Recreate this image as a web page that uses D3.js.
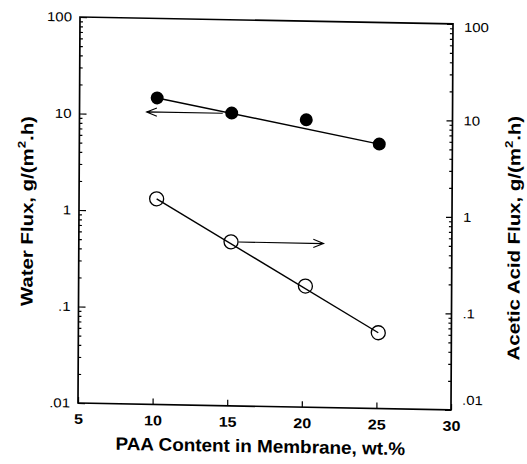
<!DOCTYPE html>
<html><head><meta charset="utf-8">
<script src="https://cdn.jsdelivr.net/npm/d3@7"></script>
<style>
body{margin:0;background:#fff}
text{font-family:"Liberation Sans",Arial,Helvetica,sans-serif;fill:#000}
</style>
</head><body>
<svg id="c" width="527" height="464"></svg>
<script>
// ---- data ----
const xTicks = [5, 10, 15, 20, 25, 30];
const xTickLabels = ["5", "10", "15", "20", "25", "30"];
const yTicks = [0.01, 0.1, 1, 10, 100];
const yTickLabels = [".01", ".1", "1", "10", "100"];
const paaContent = [10.2, 15.2, 20.2, 25.1];          // wt.%
const waterFlux = [15.0, 10.8, 9.5, 5.5];             // g/(m2.h), left axis, filled
const aceticFlux = [1.35, 0.50, 0.18, 0.061];         // g/(m2.h), right axis, open
const waterArrow = [[14.6, 10.7], [9.5, 10.7]];       // points to left axis
const aceticArrow = [[15.7, 0.50], [21.4, 0.50]];     // points to right axis
const xTitle = "PAA Content in Membrane, wt.%";
const yTitleLeft = "Water Flux, g/(m";
const yTitleRight = "Acetic Acid Flux, g/(m";

// ---- layout ----
const svg = d3.select("#c");
const L = 80, T = 17, R = 453, B = 403;
const sb = 0.0185, sc = -0.0052; // slight scan skew
const g = svg.append("g")
  .attr("transform", `matrix(1,${sb},${sc},1,${-T * sc},${-L * sb})`);

const x = d3.scaleLinear().domain([5, 30]).range([L, R]);
const y = d3.scaleLog().domain([0.01, 100]).range([B, T]);
const yR = d3.scaleLog().domain([0.01, 100]).range([B, T]);

const minor = [];
for (let e = -2; e < 2; e++) for (let k = 2; k <= 9; k++) minor.push(k * Math.pow(10, e));

function clean(sel) {
  sel.select(".domain").remove();
  sel.selectAll(".tick line").attr("stroke", "#000").attr("stroke-width", 1.2);
}
const wide = 1.15;

// bottom axis
const gx = g.append("g").attr("transform", `translate(0,${B})`)
  .call(d3.axisBottom(x).tickValues(xTicks).tickFormat((d, i) => xTickLabels[i])
    .tickSizeInner(-6).tickSizeOuter(0).tickPadding(11));
clean(gx);
gx.selectAll("text").attr("font-size", 14).attr("font-weight", "bold")
  .attr("transform", `scale(${wide},1)`).attr("x", 0);

// left axis
const gy = g.append("g").attr("transform", `translate(${L},0)`)
  .call(d3.axisLeft(y).tickValues(yTicks).tickFormat((d, i) => yTickLabels[i])
    .tickSizeInner(-7).tickSizeOuter(0).tickPadding(8));
clean(gy);
gy.selectAll("text").attr("font-size", 13).attr("x", -8 / wide)
  .attr("transform", `scale(${wide},1)`);
const gym = g.append("g").attr("transform", `translate(${L},0)`)
  .call(d3.axisLeft(y).tickValues(minor).tickFormat("").tickSizeInner(-3).tickSizeOuter(0));
clean(gym);

// right axis
const gr = g.append("g").attr("transform", `translate(${R},0)`)
  .call(d3.axisRight(yR).tickValues(yTicks).tickFormat((d, i) => yTickLabels[i])
    .tickSizeInner(-6).tickSizeOuter(0).tickPadding(11));
clean(gr);
gr.selectAll("text").attr("font-size", 13).attr("x", 11 / wide)
  .attr("transform", `scale(${wide},1)`)
  .attr("dy", d => d === 0.01 ? "-0.45em" : d === 100 ? "0.55em" : "0.32em");
const grm = g.append("g").attr("transform", `translate(${R},0)`)
  .call(d3.axisRight(yR).tickValues(minor).tickFormat("").tickSizeInner(-3).tickSizeOuter(0));
clean(grm);

// frame
g.append("rect").attr("x", L).attr("y", T).attr("width", R - L).attr("height", B - T)
  .attr("fill", "none").attr("stroke", "#000").attr("stroke-width", 1.7);

// lines (first to last point)
const n = paaContent.length - 1;
const lineW = d3.line().x(i => x(paaContent[i])).y(i => y(waterFlux[i]));
const lineA = d3.line().x(i => x(paaContent[i])).y(i => yR(aceticFlux[i]));
g.append("path").attr("d", lineW([0, n])).attr("stroke", "#000").attr("stroke-width", 1.4).attr("fill", "none");
g.append("path").attr("d", lineA([0, n])).attr("stroke", "#000").attr("stroke-width", 1.4).attr("fill", "none");

// markers
g.selectAll(".fw").data(paaContent).join("circle").attr("class", "fw")
  .attr("cx", d => x(d)).attr("cy", (d, i) => y(waterFlux[i])).attr("r", 6.5).attr("fill", "#000");
g.selectAll(".oa").data(paaContent).join("circle").attr("class", "oa")
  .attr("cx", d => x(d)).attr("cy", (d, i) => yR(aceticFlux[i])).attr("r", 7)
  .attr("fill", "none").attr("stroke", "#000").attr("stroke-width", 1.3);

// arrows
function arrow(pts, ys) {
  const x1 = x(pts[0][0]), y1 = ys(pts[0][1]), x2 = x(pts[1][0]), y2 = ys(pts[1][1]);
  const a = Math.atan2(y2 - y1, x2 - x1), len = 11, sp = 0.38;
  const p = d3.path();
  p.moveTo(x1, y1); p.lineTo(x2, y2);
  p.moveTo(x2 - len * Math.cos(a - sp), y2 - len * Math.sin(a - sp)); p.lineTo(x2, y2);
  p.lineTo(x2 - len * Math.cos(a + sp), y2 - len * Math.sin(a + sp));
  g.append("path").attr("d", p.toString()).attr("stroke", "#000").attr("stroke-width", 1.1).attr("fill", "none");
}
arrow(waterArrow, y);
arrow(aceticArrow, yR);

// titles
g.append("text").attr("transform", `translate(${(L + R) / 2 - 4},449) scale(1.05,1)`)
  .attr("text-anchor", "middle")
  .attr("font-size", 18).attr("font-weight", "bold").text(xTitle);

function vtitle(tx, ty, txt, sx) {
  const t = g.append("text").attr("transform", `translate(${tx},${ty}) rotate(-90) scale(${sx},1)`)
    .attr("text-anchor", "middle").attr("font-size", 17).attr("font-weight", "bold");
  t.append("tspan").text(txt);
  t.append("tspan").attr("font-size", 11).attr("dy", "-0.7em").text("2");
  t.append("tspan").attr("dy", "0.45em").text(".h)");
}
vtitle(34, 212, yTitleLeft, 1.2);
vtitle(521, 230, yTitleRight, 1.2);
</script>
</body></html>
